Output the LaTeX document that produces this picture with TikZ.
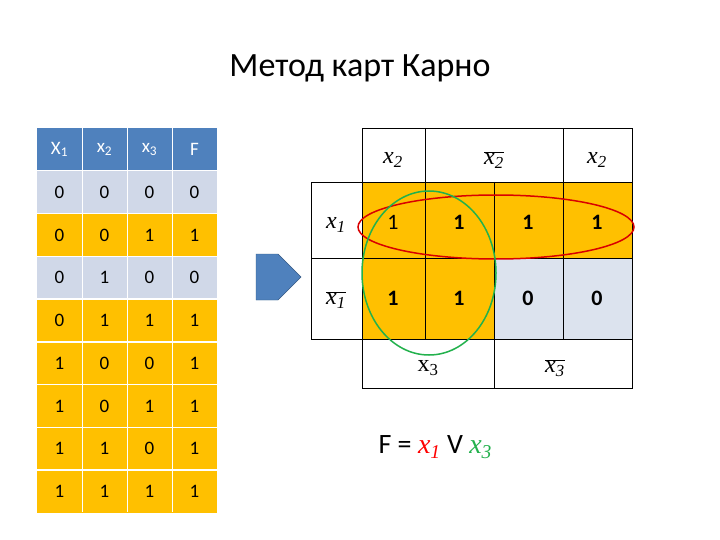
\documentclass[tikz,border=0pt]{standalone}
\usepackage{fontspec}
\setmainfont{Carlito}
\newfontfamily\mathf{Liberation Serif}
\usetikzlibrary{shapes.arrows}
\definecolor{hdr}{HTML}{4F81BD}
\definecolor{lite}{HTML}{D0D8E8}
\definecolor{org}{HTML}{FFC000}
\definecolor{kb}{HTML}{DCE3EE}
\definecolor{grn}{HTML}{22B14C}
\begin{document}
\begin{tikzpicture}[x=1pt,y=-1pt,
  cell/.style={font=\fontsize{19}{19}\selectfont},
  kcell/.style={font=\fontsize{22}{22}\selectfont\bfseries},
  var/.style={font=\mathf\itshape\fontsize{24}{24}\selectfont}]
\useasboundingbox (0,0) rectangle (720,540);
\fill[white] (0,0) rectangle (720,540);
\node (title) at (360,68) {\fontsize{34}{34}\selectfont Метод карт Карно};
% truth table
\def\rows{{"X","x","x","F"},{0,0,0,0},{0,0,1,1},{0,1,0,0},{0,1,1,1},{1,0,0,1},{1,0,1,1},{1,1,0,1},{1,1,1,1}}
\foreach \r/\a/\b/\c/\f [count=\i from 0] in {0/0/0/0/0,1/0/0/1/1,2/0/1/0/0,3/0/1/1/1,4/1/0/0/1,5/1/0/1/1,6/1/1/0/1,7/1/1/1/1}{
  \pgfmathsetmacro\yt{128+42.75*(\r+1)}
  \ifnum\f=1 \def\fc{org}\else\def\fc{lite}\fi
  \fill[\fc] (37,\yt) rectangle (217,\yt+42.75);
  \foreach \v [count=\j from 0] in {\a,\b,\c,\f}
    \node[cell] (t\r\j) at (59.5+45*\j,\yt+21.4) {\v};
}
\fill[hdr] (37,128) rectangle (217,170.75);
\foreach \k in {1,2,3,4,5,6,7,8} \draw[white,line width=1.5pt] (37,128+42.75*\k) -- (217,128+42.75*\k);
\foreach \k in {1,2,3} \draw[white,line width=1pt] (37+45*\k,128) -- (37+45*\k,512);
\node[cell,white] (h1) at (59.5,149.5) {X\textsubscript{1}};
\node[cell,white] (h2) at (104.5,149.5) {x\textsubscript{2}};
\node[cell,white] (h3) at (149.5,149.5) {x\textsubscript{3}};
\node[cell,white] (h4) at (194.5,149.5) {F};
% arrow
\node[single arrow,draw=hdr!70!black,fill=hdr,minimum height=45pt,minimum width=46pt,single arrow head extend=0pt,inner sep=0pt,shape border uses incircle=false] (arr) at (267,277) {};
% K-map
\fill[org] (362,182) rectangle (632,339);
\fill[kb] (494,258) rectangle (632,339);
\draw[thin] (362,128) rectangle (632,388);
\draw[thin] (311,182) rectangle (362,339);
\draw[thin] (311,258) -- (632,258);
\draw[thin] (362,182) -- (632,182);
\draw[thin] (362,339) -- (632,339);
\draw[thin] (425,128) -- (425,339);
\draw[thin] (563,128) -- (563,339);
\draw[thin] (494,182) -- (494,388);
\node[var] (c1) at (393,160) {x\textsubscript{2}};
\node[var] (c2) at (494,160) {$\overline{\mbox{x\textsubscript{2}}}$};
\node[var] (c3) at (597,160) {x\textsubscript{2}};
\node[var] (r1) at (336,225) {x\textsubscript{1}};
\node[var] (r2) at (336,300) {$\overline{\mbox{x\textsubscript{1}}}$};
\node[font=\mathf\fontsize{24}{24}\selectfont] (b1) at (428,368) {x\textsubscript{3}};
\node[var] (b2) at (555,368) {$\overline{\mbox{x\textsubscript{3}}}$};
\node[kcell,font=\fontsize{22}{22}\selectfont] (k11) at (393,222) {1};
\node[kcell] (k12) at (459,222) {1};
\node[kcell] (k13) at (528,222) {1};
\node[kcell] (k14) at (597,222) {1};
\node[kcell] (k21) at (393,298) {1};
\node[kcell] (k22) at (459,298) {1};
\node[kcell] (k23) at (528,298) {0};
\node[kcell] (k24) at (597,298) {0};
\draw[red!85!black,line width=1.5pt] (496,227) ellipse [x radius=138,y radius=32];
\draw[grn,line width=1.5pt] (429,273) ellipse [x radius=67,y radius=82];
% formula
\node[anchor=west,font=\fontsize{28}{28}\selectfont] (fm) at (375,447)
 {F = {\mathf\itshape\color{red}x\textsubscript{1}} V {\mathf\itshape\color{grn}x\textsubscript{3}}};
\end{tikzpicture}
\end{document}
